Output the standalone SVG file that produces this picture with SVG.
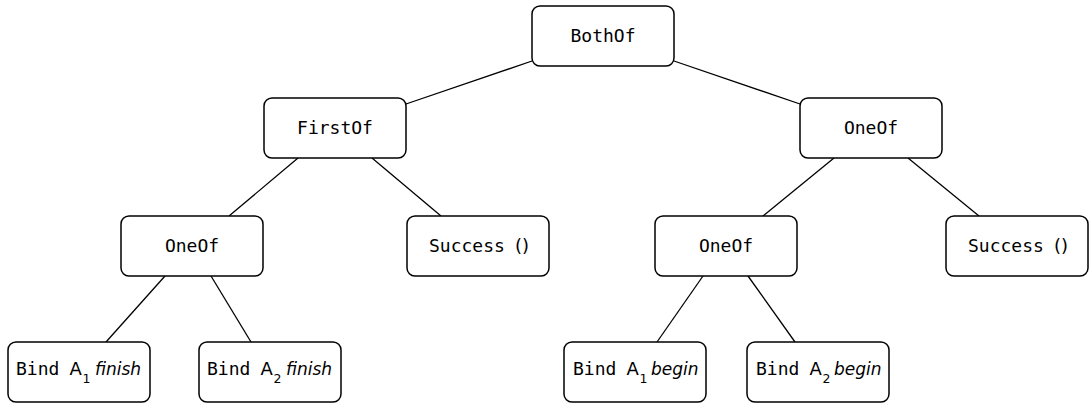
<svg xmlns="http://www.w3.org/2000/svg" width="1092" height="405" viewBox="0 0 1092 405">
<style>
rect.n{fill:#fff;stroke:#000;stroke-width:1.5}
text{font-family:"DejaVu Sans Mono",monospace;font-size:18px;fill:#000}
text.c{text-anchor:middle}
.s{font-family:"DejaVu Sans",sans-serif}
.p{font-family:"DejaVu Sans",sans-serif;font-size:18px}
.i{font-family:"DejaVu Sans",sans-serif;font-style:italic;font-size:17px}
.sub{font-family:"DejaVu Sans",sans-serif;font-size:12.5px}
#edges line{stroke:#000;stroke-width:1.3}
</style>
<rect width="1092" height="405" fill="#fff"/>
<g id="edges">
<line x1="532" y1="61" x2="406" y2="104"/>
<line x1="674" y1="61" x2="800" y2="104"/>
<line x1="298" y1="158" x2="229" y2="216"/>
<line x1="372" y1="158" x2="441" y2="216"/>
<line x1="834" y1="158" x2="763" y2="216"/>
<line x1="908" y1="158" x2="979" y2="216"/>
<line x1="165" y1="276" x2="106" y2="342"/>
<line x1="211" y1="276" x2="251" y2="342"/>
<line x1="703" y1="276" x2="657" y2="342"/>
<line x1="748" y1="276" x2="795" y2="342"/>
</g>
<g id="bothof"><rect class="n" x="532" y="6" width="142" height="60" rx="8"/><text class="c" x="603" y="42">BothOf</text></g>
<g id="firstof"><rect class="n" x="264" y="98" width="142" height="60" rx="8"/><text class="c" x="335" y="134">FirstOf</text></g>
<g id="oneof-r"><rect class="n" x="800" y="98" width="142" height="60" rx="8"/><text class="c" x="871" y="134">OneOf</text></g>
<g id="oneof-l"><rect class="n" x="121" y="216" width="142" height="60" rx="8"/><text class="c" x="192" y="252">OneOf</text></g>
<g id="success-l"><rect class="n" x="407" y="216" width="142" height="60" rx="8"/><text x="429" y="252">Success<tspan class="p" x="515">()</tspan></text></g>
<g id="oneof-m"><rect class="n" x="655" y="216" width="142" height="60" rx="8"/><text class="c" x="726" y="252">OneOf</text></g>
<g id="success-r"><rect class="n" x="946" y="216" width="142" height="60" rx="8"/><text x="968" y="252">Success<tspan class="p" x="1054">()</tspan></text></g>
<g id="bind-a1-finish"><rect class="n" x="8" y="342" width="142" height="60" rx="8"/><text x="16" y="375">Bind<tspan class="s" x="69.5">A</tspan><tspan class="sub" x="82.5" y="383">1</tspan><tspan class="i" x="95" y="375">finish</tspan></text></g>
<g id="bind-a2-finish"><rect class="n" x="199" y="342" width="142" height="60" rx="8"/><text x="207" y="375">Bind<tspan class="s" x="260.5">A</tspan><tspan class="sub" x="273.5" y="383">2</tspan><tspan class="i" x="286" y="375">finish</tspan></text></g>
<g id="bind-a1-begin"><rect class="n" x="564" y="342" width="142" height="60" rx="8"/><text x="573" y="375">Bind<tspan class="s" x="626.5">A</tspan><tspan class="sub" x="639.5" y="383">1</tspan><tspan class="i" x="651" y="375">begin</tspan></text></g>
<g id="bind-a2-begin"><rect class="n" x="747" y="342" width="142" height="60" rx="8"/><text x="756" y="375">Bind<tspan class="s" x="809.5">A</tspan><tspan class="sub" x="822.5" y="383">2</tspan><tspan class="i" x="834" y="375">begin</tspan></text></g>
</svg>
